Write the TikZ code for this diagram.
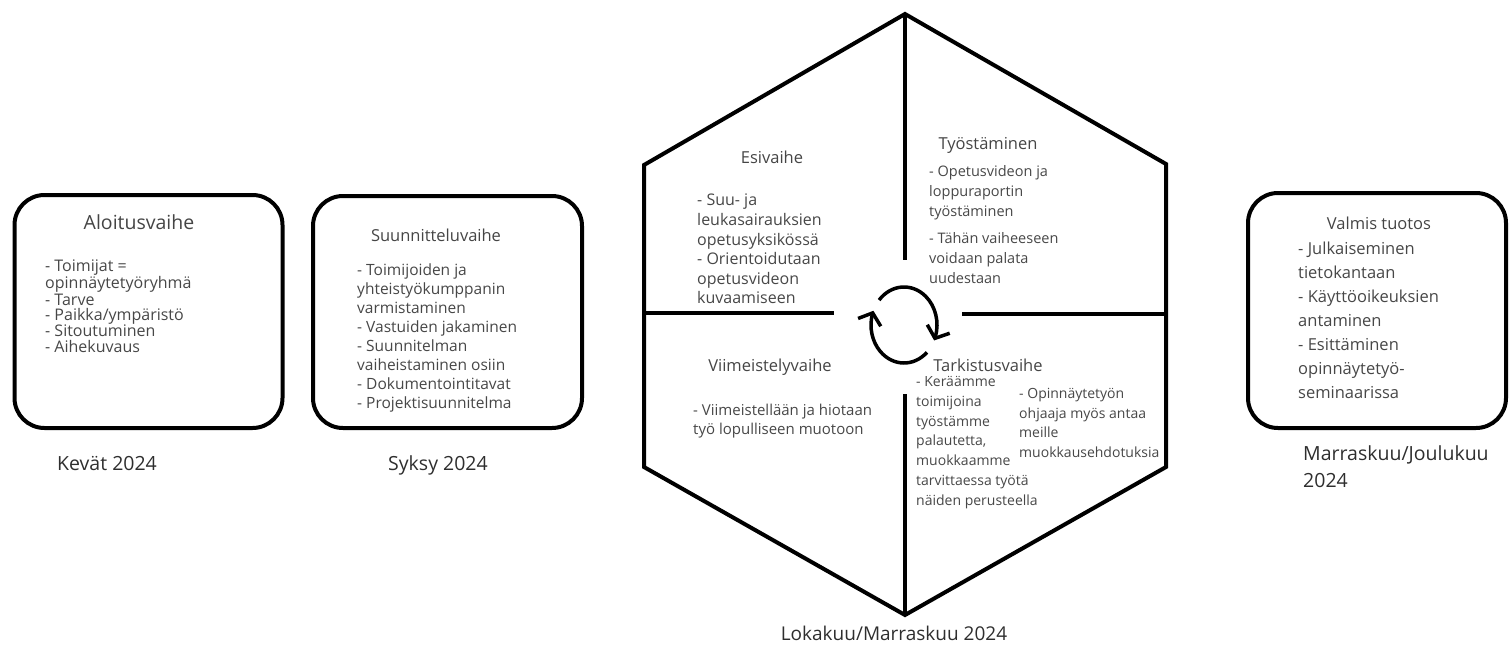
\documentclass[tikz,border=0pt]{standalone}
\usepackage{fontspec}
\setmainfont{Open Sans}
\usepackage{tikz}
\usetikzlibrary{positioning}
\usetikzlibrary{arrows.meta}
\usetikzlibrary{bending}
\definecolor{tgray}{rgb}{0.27, 0.27, 0.27}
\definecolor{bgray}{rgb}{0.28, 0.28, 0.28}
\definecolor{dgray}{rgb}{0.18, 0.18, 0.18}
\tikzset{phase/.style = {draw, line width=4, rounded corners=30, inner sep=0}}
\tikzset{hexline/.style = {line width=4}}
\tikzset{cyc/.style = {line width=3.5, -{Straight Barb[length=10pt, width=24pt]}}}
\tikzset{ttl/.style = {text=tgray, inner sep=0, font=\fontsize{16.5}{19}\selectfont}}
\tikzset{body/.style = {text=bgray, align=left, anchor=north west, inner sep=0,
                        font=\fontsize{15}{19.6}\selectfont}}
\tikzset{when/.style = {text=dgray, inner sep=0, font=\fontsize{19.5}{27}\selectfont}}

\begin{document}
\begin{tikzpicture}[x=1pt, y=-1pt]
  \useasboundingbox (0,0) rectangle (1509,645);
  % rounded boxes
  \node[phase, minimum width=268, minimum height=233] (aloitus) at (148.5,311.5) {};
  \node[phase, minimum width=269, minimum height=232] (suunn) at (447.5,312) {};
  \node[phase, minimum width=258, minimum height=235] (valmis) at (1377,310.5) {};
  \node[ttl, font=\fontsize{19.5}{22}\selectfont] (aloitusT) at (139,222) {Aloitusvaihe};
  \node[body, font=\fontsize{16}{15.2}\selectfont] (aloitusB) at (45,260)
    {- Toimijat =\\opinnäytetyöryhmä\\- Tarve\\- Paikka/ympäristö\\- Sitoutuminen\\- Aihekuvaus};
  \node[ttl] (suunnT) at (436,235) {Suunnitteluvaihe};
  \node[body, font=\fontsize{15.5}{19}\selectfont] (suunnB) at (357,264)
    {- Toimijoiden ja\\yhteistyökumppanin\\varmistaminen\\- Vastuiden jakaminen\\- Suunnitelman\\vaiheistaminen osiin\\- Dokumentointitavat\\- Projektisuunnitelma};
  \node[ttl] (valmisT) at (1379,223) {Valmis tuotos};
  \node[body, font=\fontsize{16.5}{24}\selectfont] (valmisB) at (1298,241.5)
    {- Julkaiseminen\\tietokantaan\\- Käyttöoikeuksien\\antaminen\\- Esittäminen\\opinnäytetyö-\\seminaarissa};
  \node[when, anchor=west] (kevat) at (57,463) {Kevät 2024};
  \node[when, anchor=west] (syksy) at (388,465) {Syksy 2024};
  \node[when, anchor=north west, align=left] (joulu) at (1303,445) {Marraskuu/Joulukuu\\2024};
  \node[when, font=\fontsize{19}{27}\selectfont] (lokakuu) at (894,633) {Lokakuu/Marraskuu 2024};
  % hexagon
  \coordinate (top) at (905,14);
  \coordinate (ul) at (644,165);
  \coordinate (ll) at (644,467);
  \coordinate (bot) at (905,615);
  \coordinate (lr) at (1166,467);
  \coordinate (ur) at (1166,164);
  \coordinate (upEnd) at (905,260);
  \coordinate (loStart) at (905,394);
  \coordinate (midL) at (644,313);
  \coordinate (midLend) at (834,313);
  \coordinate (midRstart) at (962,314);
  \coordinate (midR) at (1166,314);
  \draw[hexline] (top) -- (ul) -- (ll) -- (bot) -- (lr) -- (ur) -- cycle;
  \draw[hexline] (top) -- (upEnd);
  \draw[hexline] (loStart) -- (bot);
  \draw[hexline] (midL) -- (midLend);
  \draw[hexline] (midRstart) -- (midR);
  % cycle arrows
  \coordinate (ctr) at (904,325);
  \draw[cyc] ([shift={(-139:33 and 38)}]ctr) arc[start angle=-139, end angle=24, x radius=33, y radius=38];
  \draw[cyc] ([shift={(46:33 and 38)}]ctr) arc[start angle=46, end angle=202, x radius=33, y radius=38];
  % phase texts
  \node[ttl] (esiT) at (772,157) {Esivaihe};
  \node[body, font=\fontsize{16}{19.6}\selectfont] (esiB) at (697,194)
    {- Suu- ja\\leukasairauksien\\opetusyksikössä\\- Orientoidutaan\\opetusvideon\\kuvaamiseen};
  \node[ttl] (tyoT) at (988,145) {Työstäminen};
  \node[body, font=\fontsize{14.5}{20}\selectfont] (tyoB) at (929,165.5)
    {- Opetusvideon ja\\loppuraportin\\työstäminen\\[7pt]- Tähän vaiheeseen\\voidaan palata\\uudestaan};
  \node[ttl] (viimT) at (770,367) {Viimeistelyvaihe};
  \node[body, font=\fontsize{15}{19}\selectfont] (viimB) at (693,403.5)
    {- Viimeistellään ja hiotaan\\työ lopulliseen muotoon};
  \node[ttl] (tarkT) at (988,365) {Tarkistusvaihe};
  \node[body, font=\fontsize{14}{19.8}\selectfont] (tarkB) at (916,376)
    {- Keräämme\\toimijoina\\työstämme\\palautetta,\\muokkaamme\\tarvittaessa työtä\\näiden perusteella};
  \node[body, font=\fontsize{14}{19.7}\selectfont] (tarkC) at (1019,388)
    {- Opinnäytetyön\\ohjaaja myös antaa\\meille\\muokkausehdotuksia};
\end{tikzpicture}
\end{document}
